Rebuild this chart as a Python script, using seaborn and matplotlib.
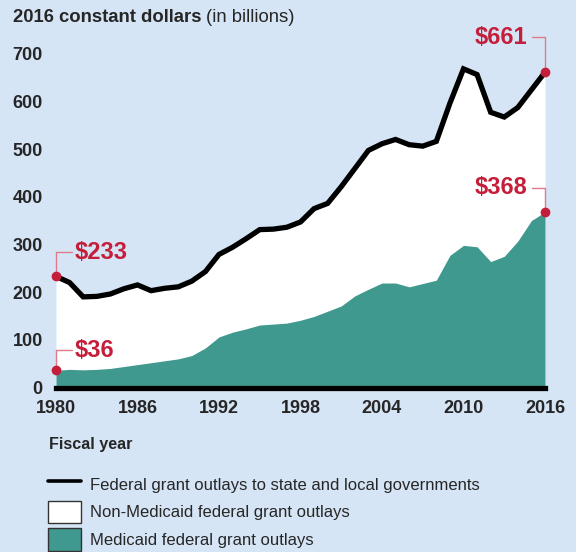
import numpy as np
import pandas as pd
import matplotlib
matplotlib.use("Agg")
import matplotlib.pyplot as plt
import seaborn as sns
from matplotlib.lines import Line2D
from matplotlib.patches import Patch

years = list(range(1980, 2017))
total = [233, 220, 190, 191, 196, 207, 215, 203, 208, 211,
         223, 243, 279, 294, 312, 331, 332, 336, 347, 375,
         386, 421, 459, 497, 511, 520, 509, 506, 516, 596,
         668, 656, 577, 567, 587, 624, 661]
medicaid = [36, 38, 37, 38, 40, 44, 48, 52, 56, 60,
            67, 83, 106, 116, 123, 131, 133, 135, 141, 149,
            160, 171, 192, 206, 219, 219, 211, 218, 225, 277,
            298, 295, 264, 275, 307, 350, 368]
xtick_years = [1980, 1986, 1992, 1998, 2004, 2010, 2016]
ytick_vals = [0, 100, 200, 300, 400, 500, 600, 700]
legend_labels = ["Federal grant outlays to state and local governments",
                 "Non-Medicaid federal grant outlays",
                 "Medicaid federal grant outlays"]

df = pd.DataFrame({"year": years, "total": total, "medicaid": medicaid})

BG = "#d6e5f5"
TEAL = "#40998f"
RED = "#c41e3a"
PINK = "#e07a8a"

sns.set_theme(style="white")
plt.rcParams["font.family"] = ["Liberation Sans", "DejaVu Sans"]

W, H = 576, 552
PXU = 0.477  # pixels per data unit
Y0 = 387.5
YTOP = 740
fig = plt.figure(figsize=(W / 100, H / 100), dpi=100, facecolor=BG)
ax = fig.add_axes([56 / W, (H - Y0) / H, 489 / W, YTOP * PXU / H])
ax.set_facecolor(BG)

ax.fill_between(df["year"], 0, df["total"], color="white", lw=0, zorder=1)
ax.fill_between(df["year"], 0, df["medicaid"], color=TEAL, lw=0, zorder=2)
sns.lineplot(data=df, x="year", y="total", color="black", lw=3.8, ax=ax,
             zorder=3, solid_joinstyle="miter")

ax.set_xlim(1980, 2016)
ax.set_ylim(0, YTOP)
ax.set_xlabel("")
ax.set_ylabel("")
for s in ["left", "right", "top"]:
    ax.spines[s].set_visible(False)
ax.spines["bottom"].set_color("black")
ax.spines["bottom"].set_linewidth(3.8)
ax.spines["bottom"].set_zorder(4)

ax.set_yticks(ytick_vals)
ax.set_yticklabels([str(v) for v in ytick_vals], fontsize=13, fontweight="bold")
ax.tick_params(axis="y", length=0, pad=9.5)
ax.set_xticks(xtick_years)
ax.set_xticklabels([str(v) for v in xtick_years], fontsize=13, fontweight="bold")
ax.set_xticks(years, minor=True)
ax.tick_params(axis="x", which="both", direction="in", length=2.6, width=0.6,
               color="#777777", pad=9)
ax.xaxis.set_zorder(5)
ax.grid(False)

# endpoint annotations (offset of leader in pixels)
def annotate(x, y, label, side, off_px):
    ax.plot([x], [y], "o", color=RED, ms=6, zorder=6, clip_on=False)
    ty = y + off_px / PXU
    if side == "left":
        ax.plot([x, x, x + 1.15], [y, ty, ty], color=PINK, lw=1, zorder=5, clip_on=False)
        ax.text(x + 1.4, ty, label, color=RED, fontsize=17, fontweight="bold",
                ha="left", va="center", zorder=6)
    else:
        ax.plot([x, x, x - 0.98], [y, ty, ty], color=PINK, lw=1, zorder=5, clip_on=False)
        ax.text(x - 1.3, ty, label, color=RED, fontsize=17, fontweight="bold",
                ha="right", va="center", zorder=6)

annotate(years[0], total[0], f"${total[0]}", "left", 24)
annotate(years[0], medicaid[0], f"${medicaid[0]}", "left", 20)
annotate(years[-1], total[-1], f"${total[-1]}", "right", 35)
annotate(years[-1], medicaid[-1], f"${medicaid[-1]}", "right", 24)

# title: bold part then regular part right after it
t1 = fig.text(13 / W, 1 - 18 / H, "2016 constant dollars", fontsize=13.3,
              fontweight="bold", ha="left", va="center")
fig.canvas.draw()
bb = t1.get_window_extent(renderer=fig.canvas.get_renderer())
fig.text((bb.x1 + 5) / W, 1 - 18 / H, "(in billions)", fontsize=13.3,
         ha="left", va="center")

fig.text(49 / W, 1 - 445 / H, "Fiscal year", fontsize=11.6, fontweight="bold",
         ha="left", va="center")

handles = [Line2D([0], [0], color="black", lw=2.6),
           Patch(facecolor="white", edgecolor="#333333", lw=1),
           Patch(facecolor=TEAL, edgecolor="#333333", lw=1)]
leg = fig.legend(handles, legend_labels, loc="upper left",
                 bbox_to_anchor=(48 / W, 1 - 473 / H), frameon=False,
                 fontsize=12, handlelength=2.0, handleheight=1.7,
                 handletextpad=0.5, labelspacing=0.3, borderaxespad=0,
                 borderpad=0)

fig.savefig("out.png", dpi=100, facecolor=BG)
